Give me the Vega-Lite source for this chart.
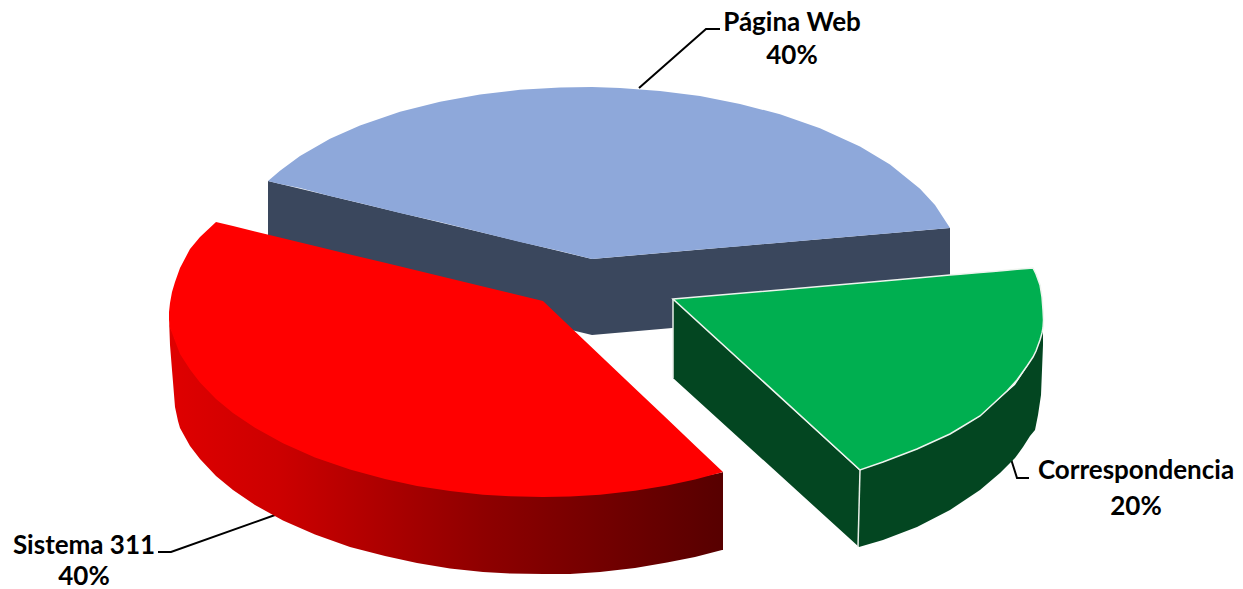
{
"$schema":"https://vega.github.io/schema/vega-lite/v6.json",
"width":1243,"height":589,"autosize":{"type":"none"},"padding":0,
"background":"white","view":{"stroke":null},
"config":{"style":{"cell":{"stroke":null}}},
"datasets":{
"webTop":[{"x":268,"y":181,"y2":181},{"x":280,"y":170.7,"y2":184},{"x":300,"y":156,"y2":188},{"x":330,"y":138.8,"y2":196},{"x":360,"y":125.5,"y2":203},{"x":400,"y":111.8,"y2":213},{"x":440,"y":101.7,"y2":222},{"x":480,"y":94.5,"y2":232},{"x":520,"y":89.8,"y2":242},{"x":560,"y":87.4,"y2":251},{"x":592,"y":87,"y2":259},{"x":620,"y":87.9,"y2":256.6},{"x":660,"y":90.9,"y2":253},{"x":700,"y":96.1,"y2":249.6},{"x":740,"y":103.9,"y2":246.2},{"x":780,"y":114.3,"y2":242.7},{"x":820,"y":128.2,"y2":239.3},{"x":860,"y":146.5,"y2":235.8},{"x":890,"y":164.5,"y2":233.2},{"x":920,"y":188.7,"y2":230.6},{"x":935,"y":205.1,"y2":229.3},{"x":950,"y":228,"y2":228}],
"webWall":[{"x":268,"y":181,"y2":257},{"x":592,"y":259,"y2":335},{"x":950,"y":228,"y2":304}],
"redTop":[{"x":169,"y":312,"y2":320},{"x":170,"y":303,"y2":328},{"x":172,"y":292,"y2":333},{"x":175,"y":282,"y2":341},{"x":180,"y":268,"y2":354},{"x":190,"y":249,"y2":369.5},{"x":200,"y":237.1,"y2":382.4},{"x":216,"y":222,"y2":398.9},{"x":233,"y":226.1,"y2":412.9},{"x":255,"y":231.4,"y2":427.8},{"x":283,"y":238.2,"y2":443.3},{"x":315,"y":245.9,"y2":457.4},{"x":350,"y":254.4,"y2":469.6},{"x":385,"y":262.8,"y2":479.1},{"x":417,"y":270.6,"y2":485.9},{"x":450,"y":278.5,"y2":491},{"x":483,"y":286.5,"y2":494.7},{"x":510,"y":293,"y2":496.2},{"x":543,"y":301,"y2":497},{"x":570,"y":326.7,"y2":496.4},{"x":600,"y":355.2,"y2":494.7},{"x":635,"y":388.4,"y2":490.8},{"x":667,"y":418.8,"y2":485.5},{"x":695,"y":445.4,"y2":479.4},{"x":723,"y":472,"y2":472}],
"redWall":[{"x":169,"y":318,"y2":318},{"x":170,"y":326,"y2":345},{"x":172,"y":331,"y2":370},{"x":173,"y":333,"y2":382},{"x":175,"y":339,"y2":407},{"x":178,"y":346,"y2":421},{"x":180,"y":351,"y2":428},{"x":190,"y":367.5,"y2":446},{"x":200,"y":380.4,"y2":459},{"x":216,"y":396.9,"y2":476},{"x":233,"y":410.9,"y2":490},{"x":255,"y":425.8,"y2":505},{"x":283,"y":441.3,"y2":520.5},{"x":315,"y":455.4,"y2":534.5},{"x":350,"y":467.6,"y2":547},{"x":385,"y":477.1,"y2":556},{"x":417,"y":483.9,"y2":563},{"x":450,"y":489,"y2":568.5},{"x":483,"y":492.7,"y2":572},{"x":510,"y":494.2,"y2":573.5},{"x":543,"y":495,"y2":574},{"x":570,"y":494.4,"y2":574},{"x":600,"y":492.7,"y2":572},{"x":635,"y":488.8,"y2":568},{"x":667,"y":483.5,"y2":562.5},{"x":695,"y":478,"y2":557},{"x":722,"y":472.5,"y2":550},{"x":723,"y":472,"y2":550}],
"greenTop":[{"x":673,"y":299,"y2":299},{"x":860,"y":283,"y2":470},{"x":883,"y":281,"y2":462},{"x":917,"y":278,"y2":449},{"x":950,"y":275.1,"y2":434},{"x":960,"y":274.2,"y2":428},{"x":980,"y":272.5,"y2":416},{"x":993,"y":271.4,"y2":404},{"x":1007,"y":270.2,"y2":391},{"x":1017,"y":269.3,"y2":380},{"x":1027,"y":268.5,"y2":366},{"x":1033,"y":268,"y2":357},{"x":1036,"y":274,"y2":351},{"x":1040,"y":285,"y2":340},{"x":1042,"y":297,"y2":333},{"x":1043,"y":310,"y2":328},{"x":1043.5,"y":320,"y2":320}],
"greenWall":[{"x":673,"y":299,"y2":378},{"x":859,"y":470,"y2":547},{"x":883,"y":462,"y2":540},{"x":917,"y":449,"y2":527},{"x":950,"y":434,"y2":510},{"x":980,"y":416,"y2":490},{"x":1000,"y":398,"y2":473},{"x":1015,"y":385,"y2":458},{"x":1023,"y":373,"y2":447},{"x":1030,"y":362,"y2":436},{"x":1035,"y":353,"y2":430},{"x":1038,"y":345,"y2":415},{"x":1041,"y":335,"y2":395},{"x":1043,"y":328,"y2":345}],
"whiteEdges":[{"edge":"a","x":673,"y":299,"o":0},{"edge":"a","x":673,"y":378,"o":1},{"edge":"b","x":860,"y":470,"o":0},{"edge":"b","x":858,"y":547,"o":1}],
"leaders":[{"slice":"Página Web","x":639,"y":88,"o":0},{"slice":"Página Web","x":706,"y":29,"o":1},{"slice":"Página Web","x":720,"y":29,"o":2},{"slice":"Correspondencia","x":1011,"y":459,"o":0},{"slice":"Correspondencia","x":1017,"y":478,"o":1},{"slice":"Correspondencia","x":1029,"y":478,"o":2},{"slice":"Sistema 311","x":275,"y":515,"o":0},{"slice":"Sistema 311","x":171,"y":552,"o":1},{"slice":"Sistema 311","x":158,"y":552,"o":2}],
"labels":[{"t":"Página Web","x":792,"y":23},{"t":"40%","x":792,"y":56},{"t":"Correspondencia","x":1136,"y":471},{"t":"20%","x":1136,"y":507},{"t":"Sistema 311","x":84,"y":546},{"t":"40%","x":84,"y":576.5}]
},
"encoding":{
"x":{"field":"x","type":"quantitative","scale":{"domain":[0,1243],"nice":false,"zero":false},"axis":null},
"y":{"field":"y","type":"quantitative","scale":{"domain":[589,0],"nice":false,"zero":false},"axis":null}
},
"layer":[
{"data":{"name":"leaders"},"mark":{"type":"line","color":"#000000","strokeWidth":2},"encoding":{"detail":{"field":"slice"},"order":{"field":"o"}}},
{"data":{"name":"webWall"},"mark":{"type":"area","color":"#3A475D"},"encoding":{"y2":{"field":"y2"}}},
{"data":{"name":"webTop"},"mark":{"type":"area","color":"#8EA8DA"},"encoding":{"y2":{"field":"y2"}}},
{"data":{"name":"redWall"},"mark":{"type":"area","color":{"gradient":"linear","x1":0,"y1":0,"x2":1,"y2":0,"stops":[{"offset":0,"color":"#DF0000"},{"offset":0.2,"color":"#CC0000"},{"offset":0.57,"color":"#8E0000"},{"offset":1,"color":"#570000"}]}},"encoding":{"y2":{"field":"y2"}}},
{"data":{"name":"redTop"},"mark":{"type":"area","color":"#FF0000"},"encoding":{"y2":{"field":"y2"}}},
{"data":{"name":"greenWall"},"mark":{"type":"area","color":"#034621"},"encoding":{"y2":{"field":"y2"}}},
{"data":{"name":"whiteEdges"},"mark":{"type":"line","color":"#E8EEE8","strokeWidth":1.5},"encoding":{"detail":{"field":"edge"},"order":{"field":"o"}}},
{"data":{"name":"greenTop"},"mark":{"type":"area","color":"#00AF50","stroke":"#EEF4EE","strokeWidth":1.5},"encoding":{"y2":{"field":"y2"}}},
{"data":{"name":"labels"},"mark":{"type":"text","font":"Lato","fontWeight":"bold","fontSize":26,"color":"#000000","align":"center","baseline":"middle"},"encoding":{"text":{"field":"t"}}}
]
}
